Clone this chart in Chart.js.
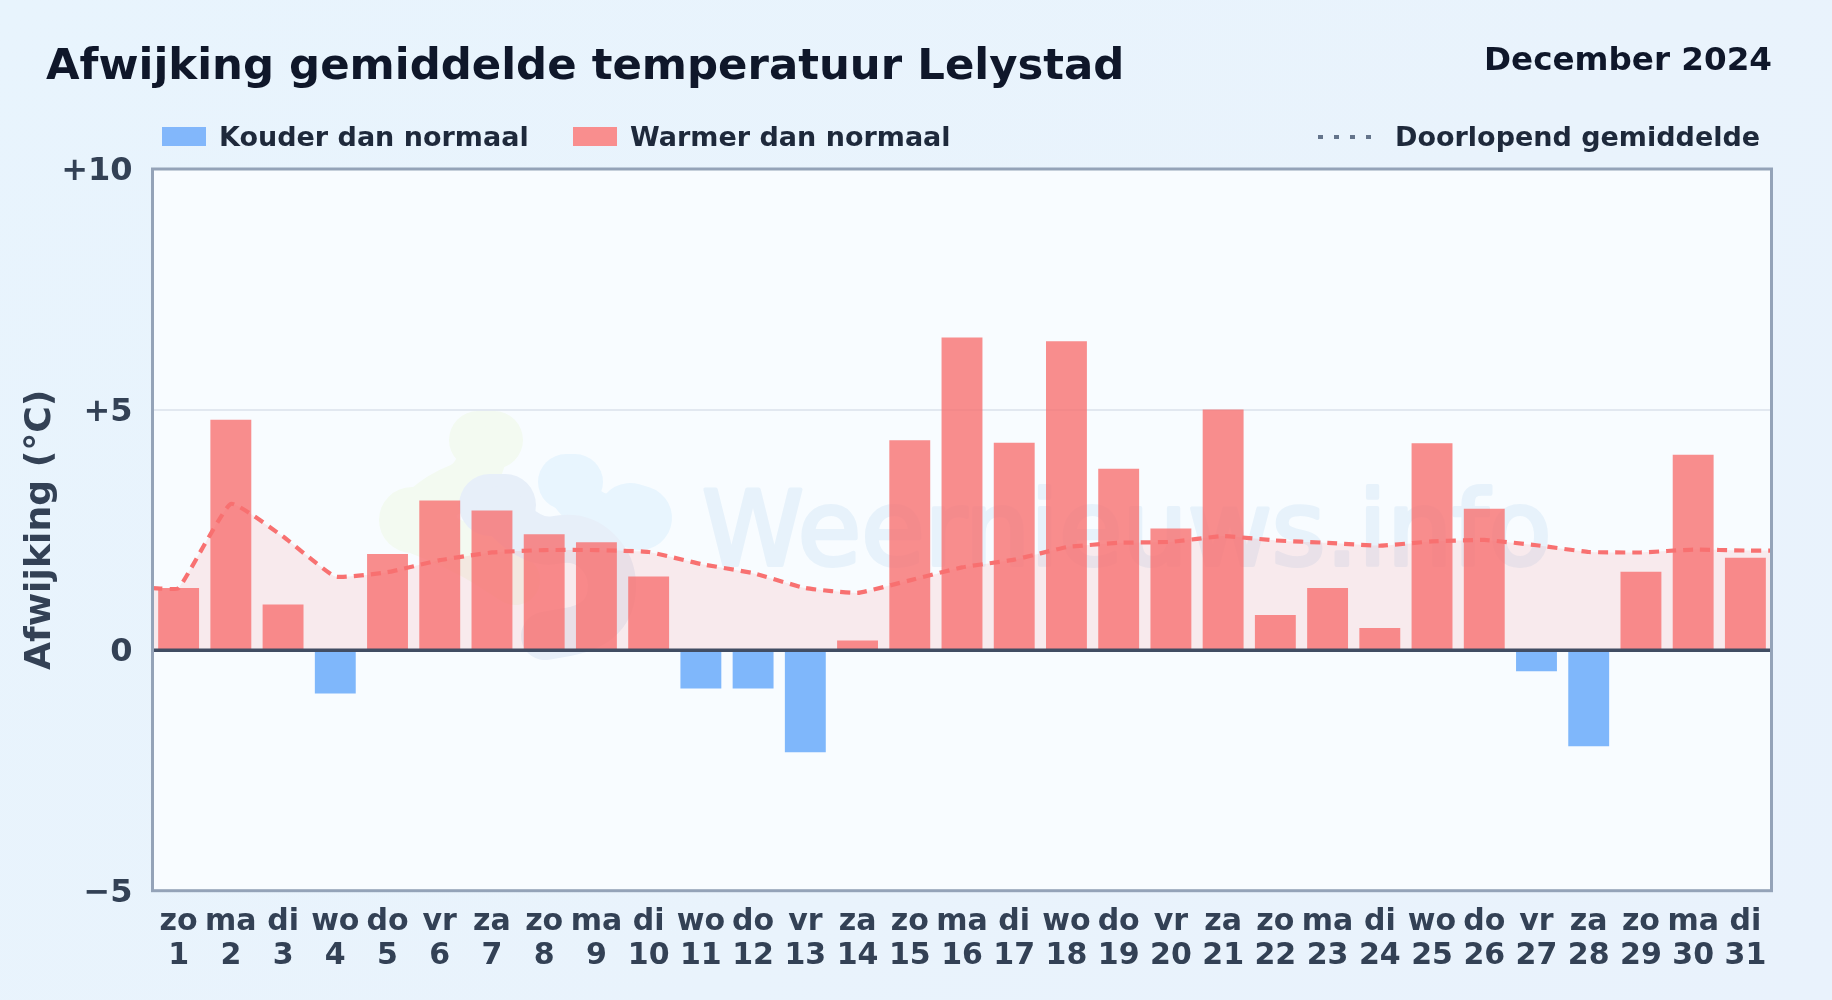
<!DOCTYPE html>
<html lang="nl">
<head>
<meta charset="utf-8">
<title>Afwijking gemiddelde temperatuur Lelystad</title>
<script src="https://cdn.jsdelivr.net/npm/chart.js@4"></script>
<style>
html,body{margin:0;padding:0;width:1832px;height:1000px;overflow:hidden;background:linear-gradient(135deg,#e8f4fd 0%,#e9f3fc 60%,#e9f2fc 100%);font-family:"DejaVu Sans",sans-serif;}
#c{position:absolute;left:0;top:0;}
.t{position:absolute;white-space:nowrap;font-weight:700;}
#title{left:46px;top:37px;font-size:43.4px;line-height:54px;color:#0f172a;}
#month{right:60px;top:39px;font-size:32.6px;line-height:40px;color:#0f172a;}
.leg{top:120px;font-size:27px;line-height:34px;color:#1e293b;}
.sw{position:absolute;top:127px;height:19px;width:44px;}
</style>
</head>
<body>
<canvas id="c" width="1832" height="1000"></canvas>
<div class="t" id="title">Afwijking gemiddelde temperatuur Lelystad</div>
<div class="t" id="month">December 2024</div>
<div class="sw" style="left:162px;background:#82b7fb"></div>
<div class="t leg" style="left:219px">Kouder dan normaal</div>
<div class="sw" style="left:573px;background:#f98e8e"></div>
<div class="t leg" style="left:630px">Warmer dan normaal</div>
<svg style="position:absolute;left:1318px;top:132px" width="56" height="10"><line x1="0" y1="5" x2="56" y2="5" stroke="#64748b" stroke-width="4" stroke-dasharray="5 11"/></svg>
<div class="t leg" style="left:1395px">Doorlopend gemiddelde</div>
<script>
const dayNames = ["zo","ma","di","wo","do","vr","za","zo","ma","di","wo","do","vr","za","zo","ma","di","wo","do","vr","za","zo","ma","di","wo","do","vr","za","zo","ma","di"];
const dayNumbers = ["1","2","3","4","5","6","7","8","9","10","11","12","13","14","15","16","17","18","19","20","21","22","23","24","25","26","27","28","29","30","31"];
const deviations = [1.29,4.79,0.95,-0.90,2.00,3.11,2.90,2.41,2.24,1.53,-0.80,-0.80,-2.12,0.20,4.36,6.50,4.31,6.42,3.77,2.53,5.00,0.73,1.29,0.46,4.30,2.94,-0.44,-2.00,1.63,4.06,1.92];
const meanPositions = [0.5,1,2,3,4,5,6,7,8,9,10,11,12,13,14,15,16,17,18,19,20,21,22,23,24,25,26,27,28,29,30,31,31.5];
const runningMean = [1.29,1.29,3.04,2.36,1.53,1.62,1.87,2.03,2.08,2.08,2.04,1.79,1.60,1.29,1.19,1.45,1.72,1.88,2.14,2.23,2.25,2.37,2.28,2.23,2.17,2.26,2.29,2.18,2.04,2.03,2.09,2.07,2.07];
const yTicks = [-5,0,5,10];
const yTickLabels = {"-5":"\u22125","0":"0","5":"+5","10":"+10"};

const COLD="rgba(96,165,250,0.8)", WARM="rgba(248,113,113,0.8)";

const blob=(ctx,color,w,pts)=>{
  ctx.strokeStyle=color;ctx.lineWidth=w;ctx.lineCap="round";ctx.lineJoin="round";
  ctx.beginPath();ctx.moveTo(pts[0][0],pts[0][1]);
  for(let i=1;i<pts.length-1;i++){
    const mx=(pts[i][0]+pts[i+1][0])/2,my=(pts[i][1]+pts[i+1][1])/2;
    ctx.quadraticCurveTo(pts[i][0],pts[i][1],mx,my);
  }
  const l=pts[pts.length-1];ctx.lineTo(l[0],l[1]);ctx.stroke();
};

const framePlugin={
  id:"frame",
  beforeDraw(chart){
    const {ctx,chartArea:a}=chart;
    ctx.save();ctx.fillStyle="#f8fcff";ctx.fillRect(a.left,a.top,a.width,a.height);ctx.restore();
  },
  beforeDatasetsDraw(chart){
    const {ctx,chartArea:a}=chart;
    ctx.save();
    ctx.beginPath();ctx.rect(a.left,a.top,a.width,a.height);ctx.clip();
    blob(ctx,"#f3faf1",58,[[478,440],[494,440]]);
    blob(ctx,"#f3faf1",48,[[484,450],[478,480],[440,495],[412,520]]);
    blob(ctx,"#f3faf1",66,[[412,520],[424,520]]);
    blob(ctx,"#f3faf1",50,[[420,530],[460,545],[515,580]]);
    blob(ctx,"#e8f5fe",56,[[566,482],[575,482]]);
    blob(ctx,"#e8f5fe",44,[[566,485],[585,515],[635,518]]);
    blob(ctx,"#e8f5fe",64,[[630,515],[640,518]]);
    blob(ctx,"#e7eff9",62,[[490,505],[505,505]]);
    blob(ctx,"#e7eff9",48,[[500,510],[530,545],[580,535],[612,565],[612,605],[590,628],[545,636]]);
    ctx.font="400 103px 'DejaVu Sans'";
    ctx.fillStyle="#e7f2fb";
    ctx.strokeStyle="#e7f2fb";ctx.lineWidth=4;ctx.lineJoin="round";
    ctx.textBaseline="alphabetic";ctx.textAlign="left";
    ctx.strokeText("Weernieuws.info",702,565);
    ctx.fillText("Weernieuws.info",702,565);
    ctx.restore();
  },
  afterDatasetsDraw(chart){
    const {ctx,chartArea:a,scales}=chart;
    const y0=scales.y.getPixelForValue(0);
    ctx.save();
    ctx.strokeStyle="#414d63";ctx.lineWidth=3.5;
    ctx.beginPath();ctx.moveTo(a.left,y0);ctx.lineTo(a.right,y0);ctx.stroke();
    ctx.strokeStyle="#94a3b8";ctx.lineWidth=3;
    ctx.strokeRect(a.left,a.top,a.width,a.height);
    ctx.restore();
  }
};

new Chart(document.getElementById("c"),{
  type:"bar",
  data:{
    labels:dayNames.map((d,i)=>[d,dayNumbers[i]]),
    datasets:[
      {type:"bar",label:"Afwijking",data:deviations,order:1,grouped:false,
       backgroundColor:c=>c.raw<0?COLD:WARM,borderWidth:0,
       barPercentage:0.9,categoryPercentage:0.87},
      {type:"line",label:"Doorlopend gemiddelde",xAxisID:"x2",order:2,
       data:meanPositions.map((x,i)=>({x,y:runningMean[i]})),
       borderColor:"#f87171",borderWidth:4.2,borderDash:[10,7],tension:0.12,pointRadius:0,
       fill:"origin",backgroundColor:"rgba(248,113,113,0.13)"}
    ]
  },
  options:{
    responsive:false,animation:false,devicePixelRatio:1,
    layout:{padding:{top:169,right:60.5,left:0,bottom:0}},
    plugins:{legend:{display:false},title:{display:false},tooltip:{enabled:false}},
    scales:{
      x:{type:"category",offset:true,
         grid:{display:false},border:{display:false},
         afterFit(s){s.height=109.3;},
         ticks:{autoSkip:false,maxRotation:0,minRotation:0,padding:7,color:"#334155",
                font:{family:"'DejaVu Sans'",size:30,weight:"700",lineHeight:1.133}}},
      x2:{type:"linear",display:false,offset:false,min:0.5,max:31.5},
      y:{type:"linear",min:-5,max:10,
         afterFit(s){s.width=152.5;},
         afterBuildTicks(s){s.ticks=yTicks.map(v=>({value:v}));},
         grid:{color:"#e2e8f0",lineWidth:2,drawTicks:false},border:{display:false},
         title:{display:true,text:"Afwijking (°C)",color:"#334155",padding:{top:19,bottom:0},
                font:{family:"'DejaVu Sans'",size:36.2,weight:"700"}},
         ticks:{padding:20,labelOffset:3,color:"#334155",callback:v=>yTickLabels[v],
                font:{family:"'DejaVu Sans'",size:32,weight:"700"}}}
    }
  },
  plugins:[framePlugin]
});
</script>
</body>
</html>
